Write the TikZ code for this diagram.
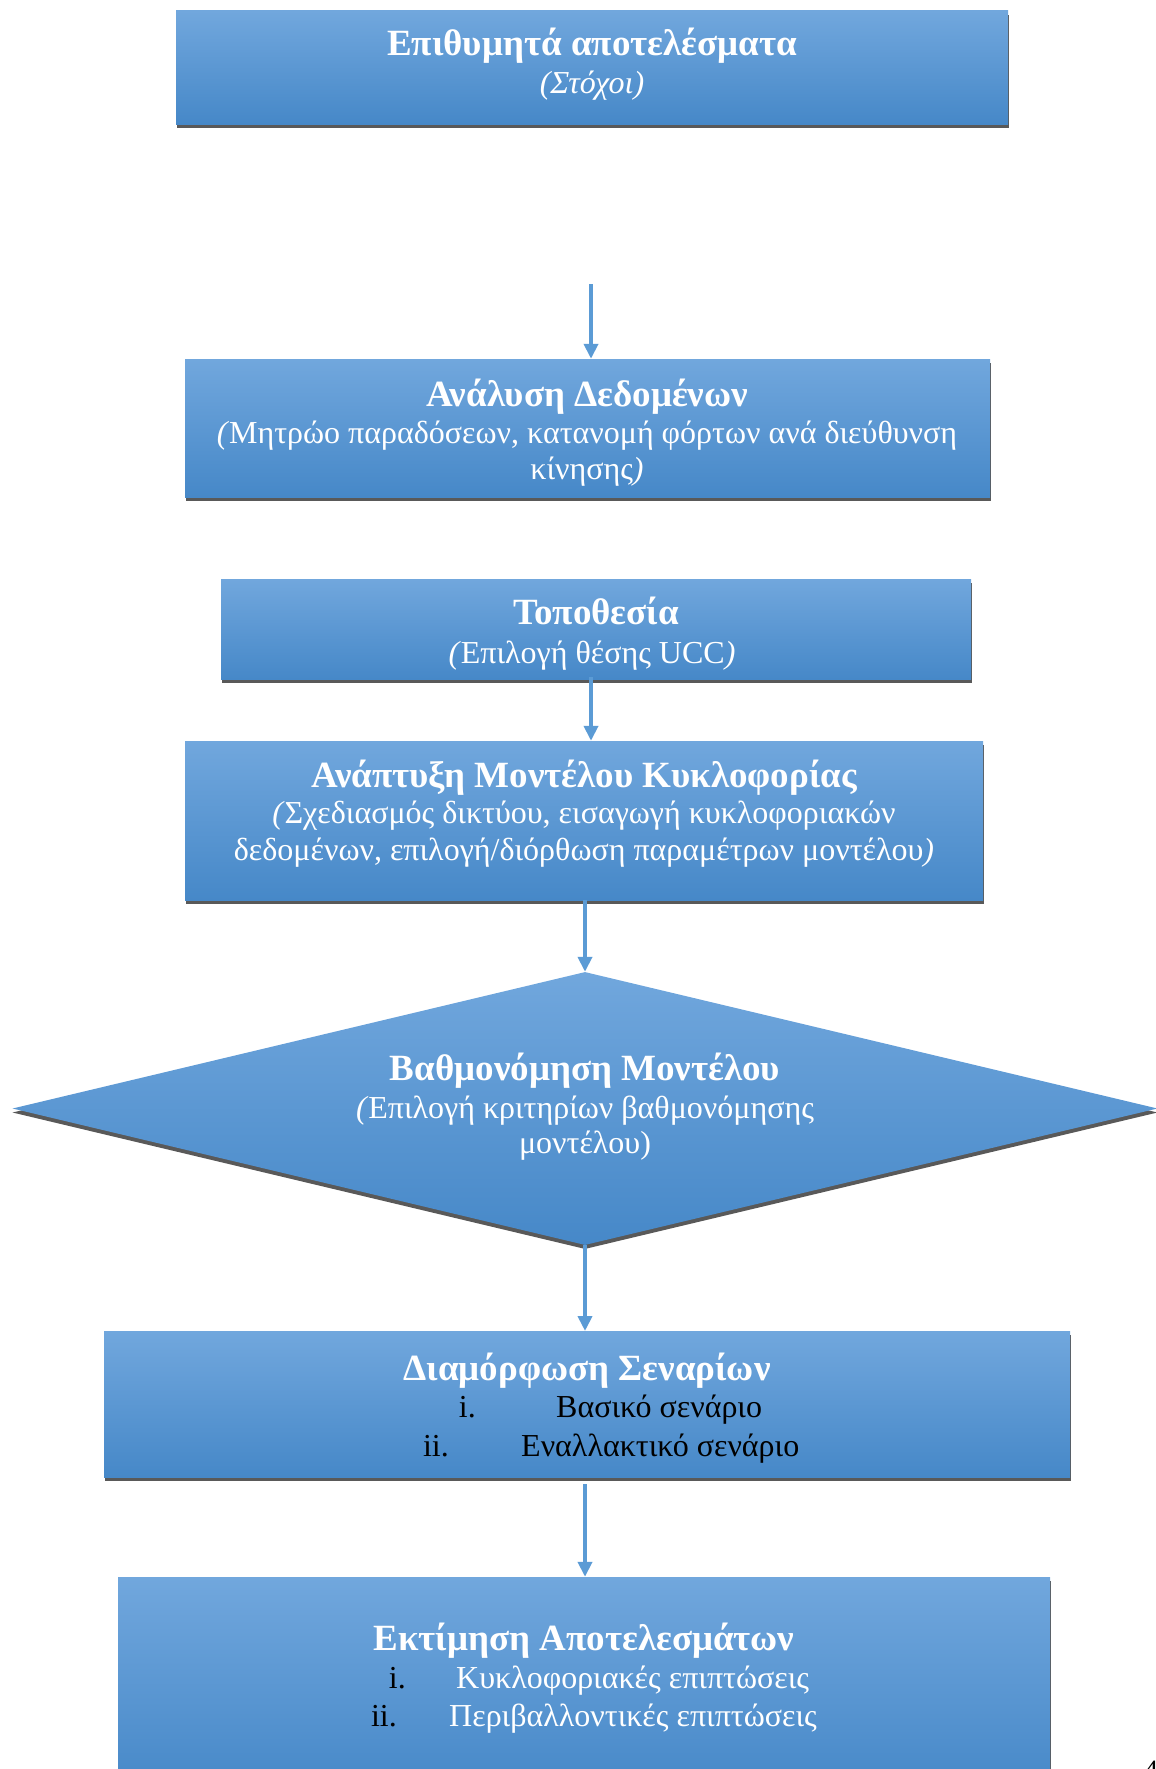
\documentclass[tikz,border=0pt]{standalone}
\usepackage{fontspec}
\setmainfont{Liberation Serif}
\usetikzlibrary{arrows.meta,shapes.geometric,shadows}
\definecolor{boxtop}{HTML}{71A7DD}
\definecolor{boxmid}{HTML}{569ADB}
\definecolor{boxbot}{HTML}{4688C8}
\definecolor{shadowgray}{HTML}{595959}
\definecolor{arrowblue}{HTML}{5B9BD5}
\begin{document}
\begin{tikzpicture}[x=1pt,y=-1pt,
  stepbox/.style={rectangle, inner sep=0pt, draw=none,
    top color=boxtop, middle color=boxmid, bottom color=boxbot,
    drop shadow={shadow xshift=1pt, shadow yshift=-4pt, fill=shadowgray, opacity=1}},
  decbox/.style={diamond, inner sep=0pt, draw=none,
    top color=boxtop, middle color=boxmid, bottom color=boxbot,
    drop shadow={shadow xshift=0pt, shadow yshift=-4pt, fill=shadowgray, opacity=1}},
  ttl/.style={anchor=base, inner sep=0pt, text=white, font=\fontsize{37}{42}\selectfont\bfseries},
  sub/.style={anchor=base, inner sep=0pt, text=white, font=\fontsize{32}{37}\selectfont},
  num/.style={anchor=base east, inner sep=0pt, text=black, font=\fontsize{32}{37}\selectfont},
  itm/.style={anchor=base west, inner sep=0pt, font=\fontsize{32}{37}\selectfont},
  arr/.style={draw=arrowblue, line width=4pt, -{Triangle[width=14pt,length=15pt]}}
]
\useasboundingbox (0,0) rectangle (1156,1769);

% boxes
\node[stepbox, minimum width=832pt, minimum height=113pt] (b1) at (592,67.5) {};
\node[stepbox, minimum width=805pt, minimum height=138pt] (b2) at (587.5,428) {};
\node[stepbox, minimum width=750pt, minimum height=100pt] (b3) at (596,629) {};
\node[stepbox, minimum width=798pt, minimum height=159pt] (b4) at (584,820.5) {};
\node[decbox, minimum width=1145pt, minimum height=273pt] (d1) at (585,1108.5) {};
\node[stepbox, minimum width=966pt, minimum height=146pt] (b5) at (587,1404) {};
\node[stepbox, minimum width=932pt, minimum height=213pt] (b6) at (584,1683.5) {};

% texts
\node[ttl] (t1) at (592,56) {Επιθυμητά αποτελέσματα};
\node[sub] (s1) at (592,93) {\textit{(Στόχοι)}};

\node[ttl] (t2) at (587,406) {Ανάλυση Δεδομένων};
\node[sub] (s2a) at (587,443) {\textit{(}Μητρώο παραδόσεων, κατανομή φόρτων ανά διεύθυνση};
\node[sub] (s2b) at (587,479) {κίνησης\textit{)}};

\node[ttl] (t3) at (596,624) {Τοποθεσία};
\node[sub] (s3) at (592,663) {\textit{(}Επιλογή θέσης UCC\textit{)}};

\node[ttl] (t4) at (584,787) {Ανάπτυξη Μοντέλου Κυκλοφορίας};
\node[sub] (s4a) at (584,823) {\textit{(}Σχεδιασμός δικτύου, εισαγωγή κυκλοφοριακών};
\node[sub] (s4b) at (584,860) {δεδομένων, επιλογή/διόρθωση παραμέτρων μοντέλου\textit{)}};

\node[ttl] (t5) at (585,1080) {Βαθμονόμηση Μοντέλου};
\node[sub] (s5a) at (585,1118) {\textit{(}Επιλογή κριτηρίων βαθμονόμησης};
\node[sub] (s5b) at (585,1153) {μοντέλου)};

\node[ttl] (t6) at (587,1380) {Διαμόρφωση Σεναρίων};
\node[num] (n6a) at (476,1417) {i.};
\node[itm, text=black] (i6a) at (556,1417) {Βασικό σενάριο};
\node[num] (n6b) at (449,1456) {ii.};
\node[itm, text=black] (i6b) at (521,1456) {Εναλλακτικό σενάριο};

\node[ttl] (t7) at (584,1650) {Εκτίμηση Αποτελεσμάτων};
\node[num] (n7a) at (406,1688) {i.};
\node[itm, text=white] (i7a) at (456,1688) {Κυκλοφοριακές επιπτώσεις};
\node[num] (n7b) at (397,1726) {ii.};
\node[itm, text=white] (i7b) at (449,1726) {Περιβαλλοντικές επιπτώσεις};

\node[anchor=north west, inner sep=0pt, font=\fontsize{28}{34}\selectfont] (pg) at (1144,1761) {4};

% connectors
\coordinate (a1) at (591,284);
\draw[arr] (a1) -- (a1 |- b2.north);
\coordinate (a2) at (591,677);
\draw[arr] (a2) -- (a2 |- b4.north);
\coordinate (a3) at (585,900);
\draw[arr] (a3) -- (d1.north);
\coordinate (a4) at (585,1331);
\draw[arr] (d1.south) -- (a4);
\coordinate (a5) at (585,1484);
\draw[arr] (a5) -- (a5 |- b6.north);
\end{tikzpicture}
\end{document}
